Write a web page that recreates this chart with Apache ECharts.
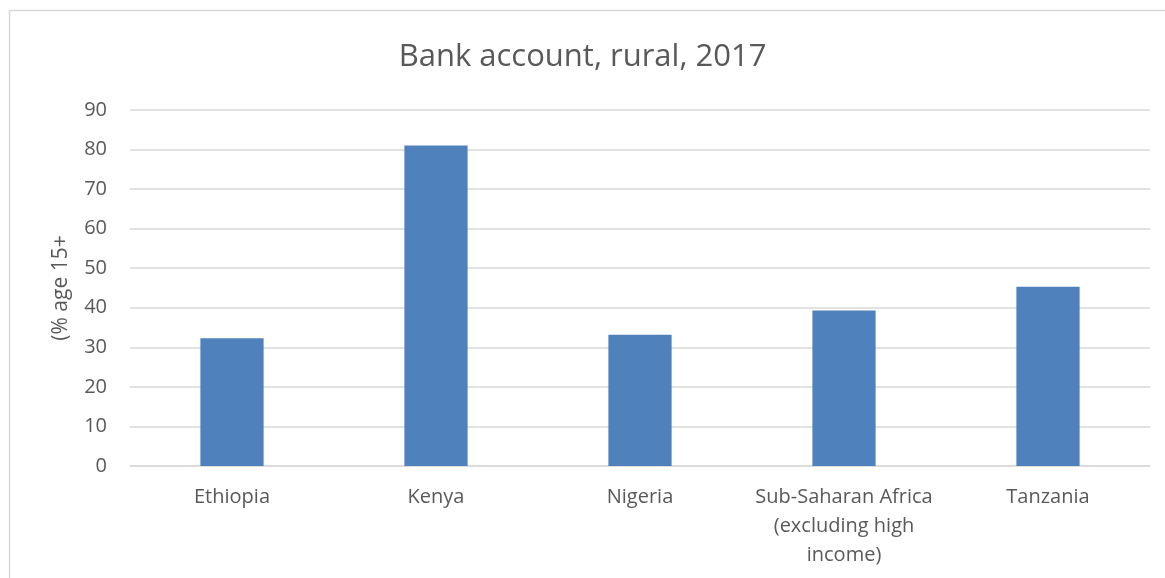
<!DOCTYPE html>
<html>
<head>
<meta charset="utf-8">
<script src="https://cdn.jsdelivr.net/npm/echarts@6/dist/echarts.min.js"></script>
<style>
  html, body { margin: 0; padding: 0; background: #ffffff; }
  #chart { width: 1165px; height: 578px; }
</style>
</head>
<body>
<div id="chart"></div>
<script>
// Account ownership in rural areas, 2017 (% age 15+)
const categories = [
  'Ethiopia',
  'Kenya',
  'Nigeria',
  'Sub-Saharan Africa\n(excluding high\nincome)',
  'Tanzania'
];
const values = [32.3, 81.0, 33.2, 39.3, 45.3];
const yTicks = [0, 10, 20, 30, 40, 50, 60, 70, 80, 90];

const textColor = '#595959';
const gridColor = '#d9d9d9';
const fontFamily = '"Open Sans", "Noto Sans", sans-serif';

const chart = echarts.init(document.getElementById('chart'), null, { renderer: 'canvas' });

chart.setOption({
  backgroundColor: '#ffffff',
  animation: false,
  graphic: [{
    type: 'rect',
    shape: { x: 9.5, y: 10.5, width: 1200, height: 620 },
    style: { fill: 'none', stroke: gridColor, lineWidth: 1.5 },
    silent: true
  }],
  title: {
    text: 'Bank account, rural, 2017',
    left: 'center',
    top: 37,
    textStyle: { color: textColor, fontSize: 31, fontWeight: 'normal', fontFamily: fontFamily }
  },
  grid: { left: 130, right: 15, top: 110, bottom: 112, containLabel: false },
  xAxis: {
    type: 'category',
    data: categories,
    axisLine: { show: true, lineStyle: { color: gridColor, width: 1.5 } },
    axisTick: { show: false },
    axisLabel: {
      color: textColor, fontSize: 20, fontFamily: fontFamily,
      margin: 17, lineHeight: 29, interval: 0
    }
  },
  yAxis: {
    type: 'value',
    min: yTicks[0],
    max: yTicks[yTicks.length - 1],
    interval: 10,
    name: '(% age 15+',
    nameLocation: 'middle',
    nameGap: 58,
    nameRotate: 90,
    nameTextStyle: { color: textColor, fontSize: 21, fontFamily: fontFamily },
    axisLine: { show: false },
    axisTick: { show: false },
    axisLabel: { color: textColor, fontSize: 20, fontFamily: fontFamily, margin: 23 },
    splitLine: { show: true, lineStyle: { color: gridColor, width: 1.5 } }
  },
  series: [{
    type: 'bar',
    data: values,
    barWidth: '31%',
    itemStyle: { color: '#4f81bd' }
  }]
});
</script>
</body>
</html>
